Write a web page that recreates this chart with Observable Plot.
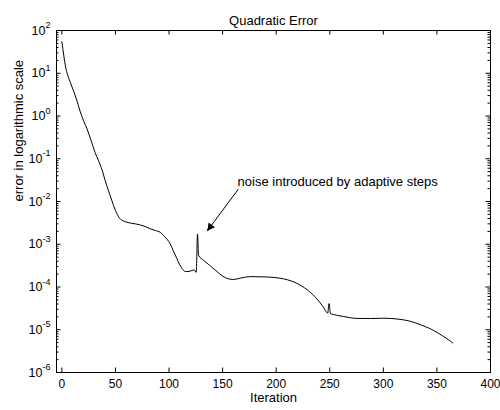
<!DOCTYPE html>
<html>
<head>
<meta charset="utf-8">
<script src="https://cdn.jsdelivr.net/npm/d3@7"></script>
<script src="https://cdn.jsdelivr.net/npm/@observablehq/plot@0.6"></script>
<style>
  html, body { margin: 0; padding: 0; background: #fff; }
  svg { display: block; }
</style>
</head>
<body>
<div id="chart"></div>
<script>
const iterations = [0, 1, 2, 3.5, 5.5, 8, 11, 14, 17, 20, 23.5, 27, 31, 34.2, 37.5, 40.4, 43.5, 46.7, 50, 52.9, 55, 57.5, 62, 68.5, 77.8, 82.5, 87.1, 91.8, 96, 101.1, 104, 107.4, 110, 112.1, 115.2, 117.5, 119.8, 121.5, 123.6, 125.4, 126.6, 127.6, 132.3, 138, 144.8, 150, 155.6, 160.3, 167, 175.9, 190, 207, 222.6, 230, 238.2, 244, 248, 249.4, 250.6, 256, 263, 275.5, 288, 300.4, 313, 325.3, 335, 344, 351, 356.4, 361, 364.8];
const errors = [54.5, 36, 24, 14, 9, 6, 3.8, 2.3, 1.3, 0.8, 0.5, 0.28, 0.14, 0.09, 0.055, 0.031, 0.018, 0.0104, 0.0062, 0.0044, 0.0038, 0.0035, 0.0032, 0.0030, 0.0026, 0.0023, 0.0021, 0.0019, 0.0015, 0.00102, 7e-4, 4.6e-4, 3.3e-4, 2.7e-4, 2.3e-4, 2.3e-4, 2.35e-4, 2.45e-4, 2.5e-4, 2.2e-4, 1.74e-3, 5.5e-4, 4.2e-4, 3.2e-4, 2.3e-4, 1.8e-4, 1.55e-4, 1.5e-4, 1.62e-4, 1.75e-4, 1.72e-4, 1.55e-4, 1.1e-4, 8.2e-5, 5.2e-5, 3.4e-5, 2.45e-5, 4.1e-5, 2.4e-5, 2.2e-5, 2.04e-5, 1.84e-5, 1.83e-5, 1.86e-5, 1.78e-5, 1.58e-5, 1.3e-5, 1.05e-5, 8.4e-6, 6.9e-6, 5.8e-6, 4.9e-6];
const xTicks = [0, 50, 100, 150, 200, 250, 300, 350, 400];
const yTicks = [1e-6, 1e-5, 1e-4, 1e-3, 1e-2, 1e-1, 1e0, 1e1, 1e2];
const titleText = "Quadratic Error";
const xLabel = "Iteration";
const yLabel = "error in logarithmic scale";
const noteText = "noise introduced by adaptive steps";
const noteArrow = [{x1: 164.4, y1: 0.019, x2: 136, y2: 0.0021}];
const noteHead = [{x: 138.6, y: 0.00257}];
const noteLabel = [{x: 164, y: 0.0294}];

const data = iterations.map((x, i) => ({x, y: errors[i]}));
const minorTicks = [];
for (let e = -6; e < 2; e++) for (let m = 2; m <= 9; m++) minorTicks.push(m * Math.pow(10, e));

const W = 500, H = 410, ML = 56, MR = 10, MT = 30, MB = 38;
const FW = W - ML - MR, FH = H - MT - MB;
const major = 4.5, minor = 2.5;

const sup = d => {
  const e = Math.round(Math.log10(d));
  return "10^" + (e < 0 ? "-" + (-e) : String(e));
};

const chart = Plot.plot({
  width: W,
  height: H,
  marginLeft: ML,
  marginRight: MR,
  marginTop: MT,
  marginBottom: MB,
  style: {fontFamily: "'Liberation Sans', Arial, Helvetica, sans-serif", fontSize: "13px", color: "#000", background: "#fff"},
  x: {domain: [-5, 400]},
  y: {type: "log", domain: [1e-6, 1e2]},
  marks: [
    Plot.line(data, {x: "x", y: "y", stroke: "#000", strokeWidth: 1, curve: "monotone-x"}),
    // ticks (inward, MATLAB-style)
    Plot.tickX(xTicks, {x: d => d, stroke: "#000", insetTop: FH - major}),
    Plot.tickX(xTicks, {x: d => d, stroke: "#000", insetBottom: FH - major}),
    Plot.tickY(yTicks, {y: d => d, stroke: "#000", insetRight: FW - major}),
    Plot.tickY(yTicks, {y: d => d, stroke: "#000", insetLeft: FW - major}),
    Plot.tickY(minorTicks, {y: d => d, stroke: "#000", insetRight: FW - minor}),
    Plot.tickY(minorTicks, {y: d => d, stroke: "#000", insetLeft: FW - minor}),
    // tick labels
    Plot.axisX({anchor: "bottom", ticks: xTicks, tickSize: 0, tickPadding: 7, tickFormat: d => String(d), label: null, fontSize: 12}),
    Plot.axisY({anchor: "left", ticks: yTicks, tickSize: 0, tickPadding: 6, tickFormat: sup, label: null, fontSize: 12.5}),
    Plot.frame({stroke: "#000", strokeWidth: 1}),
    // annotation
    Plot.arrow(noteArrow, {x1: "x1", y1: "y1", x2: "x2", y2: "y2", stroke: "#000", strokeWidth: 1, headLength: 9, headAngle: 40}),
    Plot.dot(noteHead, {x: "x", y: "y", symbol: "triangle", r: 3, fill: "#000", stroke: "none", rotate: 216.6}),
    Plot.text(noteLabel, {x: "x", y: "y", text: () => noteText, textAnchor: "start", fill: "#000"}),
    // titles
    Plot.text([titleText], {frameAnchor: "top", dy: -15, text: d => d, fill: "#000"}),
    Plot.text([xLabel], {frameAnchor: "bottom", dy: 29.5, text: d => d, fill: "#000"}),
    Plot.text([yLabel], {frameAnchor: "left", dx: -38, rotate: -90, text: d => d, fill: "#000"})
  ]
});

// render exponents as superscripts
chart.querySelectorAll("text").forEach(t => {
  const s = t.textContent;
  if (/^10\^/.test(s)) {
    const exp = s.slice(3);
    t.textContent = "10";
    const ts = document.createElementNS("http://www.w3.org/2000/svg", "tspan");
    ts.setAttribute("dy", "-6.5");
    ts.setAttribute("font-size", "9px");
    ts.textContent = exp;
    t.appendChild(ts);
  }
});

document.getElementById("chart").appendChild(chart);
</script>
</body>
</html>
